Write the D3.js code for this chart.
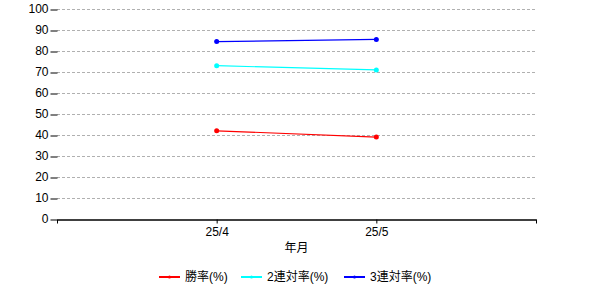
<!DOCTYPE html>
<html><head><meta charset="utf-8">
<script src="https://cdn.jsdelivr.net/npm/d3@7"></script>
<style>body{margin:0;background:#fff}svg{display:block}text{font-family:Arial,"Liberation Sans","Noto Sans CJK JP",sans-serif}</style>
</head><body><svg id="c" width="600" height="300"></svg>
<script>
const categories = ["25/4", "25/5"];
const winRate = [42, 39];
const top2Rate = [73, 71];
const top3Rate = [84.5, 85.5];
const yTicks = [0,10,20,30,40,50,60,70,80,90,100];
const seriesNames = ["勝率(%)", "2連対率(%)", "3連対率(%)"];
const seriesColors = ["#ff0000", "#00ffff", "#0000ff"];
const series = [winRate, top2Rate, top3Rate];

const svg = d3.select("#c");
const L = 57, R = 536, T = 9, B = 219;
const x = d3.scaleLinear().domain([0, categories.length + 1]).range([L, R]);
const y = d3.scaleLinear().domain([0, 100]).range([B, T]);

// grid
svg.append("g").selectAll("line").data(yTicks.filter(d => d > 0)).join("line")
  .attr("x1", L).attr("x2", R).attr("y1", d => y(d) + 0.5).attr("y2", d => y(d) + 0.5)
  .attr("stroke", "#b0b0b0").attr("stroke-dasharray", "3,2");

// y axis
const ya = svg.append("g").attr("transform", `translate(${L + 0.5},0)`)
  .call(d3.axisLeft(y).tickValues(yTicks).tickSize(7).tickPadding(2));
ya.select(".domain").remove();
ya.selectAll(".tick line").attr("transform", "translate(0,0.5)");
ya.selectAll("text").attr("font-size", 12).attr("fill", "#000");

// x axis
const xa = svg.append("g").attr("transform", `translate(0,${B + 0.5})`)
  .call(d3.axisBottom(x).tickValues([0, 1, 2, 3]).tickFormat(d => categories[d - 1] || "").tickSize(4).tickSizeOuter(0).tickPadding(4));
xa.select(".domain").attr("stroke", "#000").attr("stroke-width", 1.5);
xa.selectAll("text").attr("font-size", 12).attr("fill", "#000");

svg.append("text").attr("x", (L + R) / 2).attr("y", 252).attr("text-anchor", "middle")
  .attr("font-size", 12).text("年月");

// series
const line = d3.line().x((d, i) => x(i + 1)).y(d => y(d));
series.forEach((s, k) => {
  svg.append("path").datum(s).attr("d", line).attr("fill", "none")
    .attr("stroke", seriesColors[k]).attr("stroke-width", 1.2);
  svg.append("g").selectAll("circle").data(s).join("circle")
    .attr("cx", (d, i) => x(i + 1)).attr("cy", d => y(d)).attr("r", 2.5)
    .attr("fill", seriesColors[k]);
});

// legend
const legX = [159, 241, 344];
seriesNames.forEach((n, k) => {
  const g = svg.append("g").attr("transform", `translate(${legX[k]},277)`);
  g.append("line").attr("x1", 0).attr("x2", 21).attr("y1", 0).attr("y2", 0)
    .attr("stroke", seriesColors[k]).attr("stroke-width", 2);
  g.append("circle").attr("cx", 10.5).attr("cy", 0).attr("r", 1.5).attr("fill", seriesColors[k]);
  g.append("text").attr("x", 26).attr("y", 4).attr("font-size", 12).text(n);
});
</script></body></html>
